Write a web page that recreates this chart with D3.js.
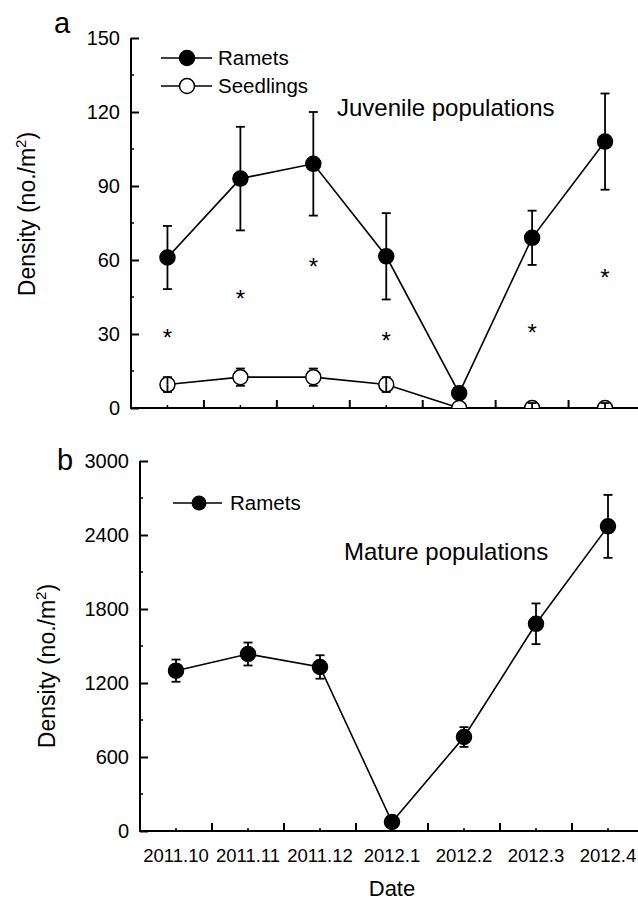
<!DOCTYPE html>
<html>
<head>
<meta charset="utf-8">
<script src="https://cdn.jsdelivr.net/npm/d3@7"></script>
<style>
  html, body { margin: 0; padding: 0; background: #fff; }
  svg { display: block; font-family: "Liberation Sans", Arial, sans-serif; }
</style>
</head>
<body>
<svg id="chart" width="638" height="903"></svg>
<script>
// ---------- data ----------
const categories = ["2011.10", "2011.11", "2011.12", "2012.1", "2012.2", "2012.3", "2012.4"];
const juvenileRamets = [61, 93, 99, 61.5, 6, 69, 108];
const juvenileRametsErr = [12.8, 21, 21, 17.5, 2, 11, 19.5];
const juvenileSeedlings = [9.5, 12.5, 12.5, 9.5, 0, 0, 0];
const juvenileSeedlingsErr = [3, 3.5, 3.5, 3, 0, 2, 2];
const asteriskHeights = [30.5, 46.5, 59.5, 29.5, null, 32.5, 55];
const matureRamets = [1300, 1435, 1330, 73, 762, 1680, 2470];
const matureRametsErr = [90, 93, 95, 15, 80, 165, 255];
const topTicks = [0, 30, 60, 90, 120, 150];
const bottomTicks = [0, 600, 1200, 1800, 2400, 3000];

const svg = d3.select("#chart");
const R = 7.5;

function panel(opts) {
  const g = svg.append("g");
  const x = d3.scaleBand().domain(categories).range([opts.left, opts.right]).paddingInner(0).paddingOuter(0);
  const y = d3.scaleLinear().domain([0, opts.max]).range([opts.bottom, opts.top]);
  const cx = c => x(c) + x.bandwidth() / 2;

  const clipId = "clip" + opts.id;
  svg.append("clipPath").attr("id", clipId).append("rect")
    .attr("x", opts.left).attr("y", 0).attr("width", opts.right - opts.left).attr("height", opts.bottom);

  // y axis
  const yAxis = d3.axisRight(y).tickValues(opts.ticks).tickSize(8).tickFormat("");
  const yg = g.append("g").attr("transform", `translate(${opts.left},0)`).call(yAxis);
  yg.select(".domain").remove();
  yg.selectAll("line").attr("stroke", "#000").attr("stroke-width", 2);
  const minor = d3.range(0, opts.max, opts.max / 10).filter((v, i) => i % 2 === 1);
  g.selectAll(".yminor").data(minor).enter().append("line")
    .attr("x1", opts.left).attr("x2", opts.left + 3)
    .attr("y1", d => y(d)).attr("y2", d => y(d))
    .attr("stroke", "#000").attr("stroke-width", 1.5);
  g.selectAll(".ylab").data(opts.ticks).enter().append("text")
    .attr("x", opts.left - 11).attr("y", d => y(d)).attr("dy", "0.36em")
    .attr("text-anchor", "end").attr("font-size", 20).text(d => d);
  g.append("line").attr("x1", opts.left).attr("x2", opts.left)
    .attr("y1", opts.top).attr("y2", opts.bottom + 1)
    .attr("stroke", "#000").attr("stroke-width", 2);

  // x axis
  g.append("line").attr("x1", opts.left - 1).attr("x2", opts.right)
    .attr("y1", opts.bottom).attr("y2", opts.bottom)
    .attr("stroke", "#000").attr("stroke-width", 2);
  const bounds = categories.slice(1).map(c => x(c));
  g.selectAll(".xmajor").data(bounds).enter().append("line")
    .attr("x1", d => d).attr("x2", d => d)
    .attr("y1", opts.bottom).attr("y2", opts.bottom - 8)
    .attr("stroke", "#000").attr("stroke-width", 2);
  g.selectAll(".xminor").data(categories).enter().append("line")
    .attr("x1", d => cx(d)).attr("x2", d => cx(d))
    .attr("y1", opts.bottom).attr("y2", opts.bottom - 3)
    .attr("stroke", "#000").attr("stroke-width", 1.5);
  if (opts.xLabels) {
    g.selectAll(".xlab").data(categories).enter().append("text")
      .attr("x", d => cx(d)).attr("y", opts.bottom + 31)
      .attr("text-anchor", "middle").attr("font-size", 18.5).text(d => d);
  }

  // y title
  const t = g.append("text")
    .attr("transform", `translate(${opts.titleX},${opts.titleY}) rotate(-90)`)
    .attr("text-anchor", "middle").attr("font-size", 23);
  t.append("tspan").text("Density (no./m");
  t.append("tspan").attr("font-size", 15).attr("dy", -9).text("2");
  t.append("tspan").attr("dy", 9).text(")");

  const plot = g.append("g").attr("clip-path", `url(#${clipId})`);
  return { g, x, y, cx, plot };
}

function drawSeries(p, values, errs, filled, errOnTop) {
  const line = d3.line().x((d, i) => p.cx(categories[i])).y(d => p.y(d));
  p.plot.append("path").datum(values).attr("d", line)
    .attr("fill", "none").attr("stroke", "#000").attr("stroke-width", 1.6);
  const eg = p.plot.append("g");
  const drawErr = () => {
    values.forEach((v, i) => {
      const e = errs[i];
      if (!e) return;
      const xc = p.cx(categories[i]);
      const y0 = p.y(v), yt = p.y(v + e), yb = p.y(v - e);
      const ePx = y0 - yt;
      const start = errOnTop && ePx > R ? R : 0;
      [[yt, -1], [yb, 1]].forEach(([yy, s]) => {
        eg.append("line").attr("x1", xc).attr("x2", xc)
          .attr("y1", y0 + s * start).attr("y2", yy)
          .attr("stroke", "#000").attr("stroke-width", 1.8);
        eg.append("line").attr("x1", xc - 4.5).attr("x2", xc + 4.5)
          .attr("y1", yy).attr("y2", yy)
          .attr("stroke", "#000").attr("stroke-width", 1.8);
      });
    });
  };
  if (!errOnTop) drawErr();
  p.plot.selectAll(null).data(values).enter().append("circle")
    .attr("cx", (d, i) => p.cx(categories[i])).attr("cy", d => p.y(d)).attr("r", R)
    .attr("fill", filled ? "#000" : "#fff").attr("stroke", "#000").attr("stroke-width", 1.5);
  if (errOnTop) { eg.raise(); drawErr(); }
}

// ---------- panel a ----------
const pa = panel({ id: "a", left: 131, right: 641.5, top: 38, bottom: 408, max: 150, ticks: topTicks, xLabels: false, titleX: 35, titleY: 214 });
drawSeries(pa, juvenileRamets, juvenileRametsErr, true, false);
drawSeries(pa, juvenileSeedlings, juvenileSeedlingsErr, false, true);
pa.g.selectAll(".ast").data(asteriskHeights.map((v, i) => ({ v, c: categories[i] })).filter(d => d.v !== null))
  .enter().append("text")
  .attr("x", d => pa.cx(d.c)).attr("y", d => pa.y(d.v) + 13.5)
  .attr("text-anchor", "middle").attr("font-size", 24).text("*");

// legend a
const legA = [{ label: "Ramets", fill: "#000", y: 58 }, { label: "Seedlings", fill: "#fff", y: 86 }];
legA.forEach(d => {
  svg.append("line").attr("x1", 161).attr("x2", 212).attr("y1", d.y).attr("y2", d.y)
    .attr("stroke", "#000").attr("stroke-width", 1.6);
  svg.append("circle").attr("cx", 187).attr("cy", d.y).attr("r", R)
    .attr("fill", d.fill).attr("stroke", "#000").attr("stroke-width", 1.5);
  svg.append("text").attr("x", 218).attr("y", d.y).attr("dy", "0.36em")
    .attr("font-size", 20.5).text(d.label);
});
svg.append("text").attr("x", 337).attr("y", 116).attr("font-size", 24).text("Juvenile populations");
svg.append("text").attr("x", 54).attr("y", 33).attr("font-size", 29).text("a");

// ---------- panel b ----------
const pb = panel({ id: "b", left: 140, right: 644, top: 461, bottom: 831, max: 3000, ticks: bottomTicks, xLabels: true, titleX: 55, titleY: 666 });
drawSeries(pb, matureRamets, matureRametsErr, true, false);

svg.append("line").attr("x1", 173).attr("x2", 222).attr("y1", 503).attr("y2", 503)
  .attr("stroke", "#000").attr("stroke-width", 1.6);
svg.append("circle").attr("cx", 199).attr("cy", 503).attr("r", R).attr("fill", "#000");
svg.append("text").attr("x", 230).attr("y", 503).attr("dy", "0.36em").attr("font-size", 20.5).text("Ramets");
svg.append("text").attr("x", 344).attr("y", 560).attr("font-size", 24).text("Mature populations");
svg.append("text").attr("x", 57).attr("y", 470).attr("font-size", 29).text("b");
svg.append("text").attr("x", 392).attr("y", 896).attr("text-anchor", "middle").attr("font-size", 22).text("Date");
</script>
</body>
</html>
